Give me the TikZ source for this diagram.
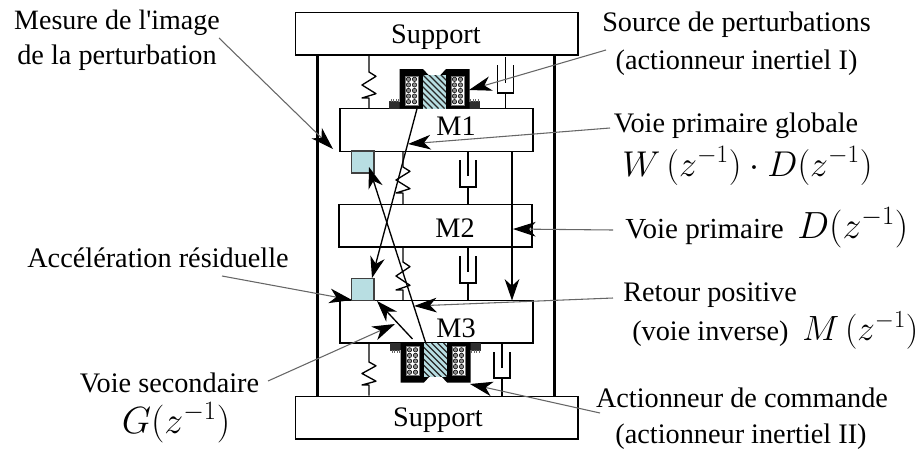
\RequirePackage{fix-cm}
\documentclass[tikz,border=0pt]{standalone}
\usepackage{fontspec}
\setmainfont{Liberation Serif}
\newfontfamily\plainserif{Liberation Serif}
\usetikzlibrary{arrows.meta}
\definecolor{sens}{HTML}{B8DEE2}
\tikzset{
  massbox/.style={draw=black,line width=1pt,fill=white,inner sep=0pt},
  sensorbox/.style={draw=black!75,line width=1pt,fill=sens,inner sep=0pt,minimum width=17pt,minimum height=16.5pt},
  rail/.style={line width=2.8pt,black},
  thin line/.style={line width=1pt,black},
  path line/.style={line width=1pt,black,-{Stealth[length=16pt,width=11pt,inset=5pt]}},
  note line/.style={line width=0.8pt,black!60,-{Stealth[length=17pt,width=11pt,inset=5pt,color=black]}},
  lab/.style={inner sep=0pt,anchor=base,font=\fontsize{21.2}{25}\selectfont},
  labw/.style={lab,anchor=base west},
  mathlab/.style={inner sep=0pt,anchor=base,font=\fontsize{26.9}{31}\selectfont},
  mathlabw/.style={mathlab,anchor=base west},
  mathbig/.style={font=\fontsize{28.4}{33}\selectfont},
  mathmid/.style={font=\fontsize{26.3}{31}\selectfont},
}
% spring: x, ytop, yzigtop, yzigbot, ybot
\newcommand\myspring[5]{%
  \draw[thin line,line join=round] (#1,#2) -- (#1,#3)
    -- ++(7,{(#4-#3)/6}) -- ++(-14,{(#4-#3)/3}) -- ++(14,{(#4-#3)/3})
    -- (#1-7,#4) -- (#1,#4) -- (#1,#5);}
% damper: x, halfwidth, rodtop, pistonend, cuptop, cupbot, rodbot
\newcommand\mydamper[7]{%
  \draw[thin line] (#1,#3) -- (#1,#4);
  \draw[line width=1.3pt] (#1-#2,#5) -- (#1-#2,#6) -- (#1+#2,#6) -- (#1+#2,#5);
  \draw[thin line] (#1,#6) -- (#1,#7);}
% actuator, drawn for the top position, base on y=0; #1 = hatch direction
\newcommand\myactuator[1]{%
  \fill[black!82] (-45.5,-6.5) rectangle (45.5,0);
  \fill[black] (-35,0) -- (-35,-39.5) -- (-11.5,-39.5) -- (-6,-33.5) -- (6,-33.5) -- (11.5,-39.5) -- (35,-39.5) -- (35,0) -- cycle;
  \fill[black!78] (-45.5,-8) rectangle (-36,-6.5);
  \fill[black!78] (36,-8) rectangle (45.5,-6.5);
  \foreach \i in {-44,-41.5,-39,-36.5} {
    \fill[black!60] (\i,-9.5) rectangle (\i+1,-7);
    \fill[black!60] (-\i,-9.5) rectangle (-\i-1,-7);}
  \begin{scope}
    \clip (-11.5,-33.5) rectangle (11.5,0);
    \fill[sens] (-11.5,-33.5) rectangle (11.5,0);
    \foreach \k in {-66,-60,...,66} \draw[line width=1pt,black!85] (\k,-34) -- (\k+#1*34,0);
  \end{scope}
  \foreach \s in {-1,1} {
    \fill[white,draw=black!55,line width=.5pt] ({\s*23-6.5},-32.5) rectangle ({\s*23+6.5},-3.5);
    \foreach \c in {-3,3} \foreach \r in {-29.2,-23.6,-18,-12.4,-6.8}
      \filldraw[fill=black!45,draw=black,line width=.4pt] ({\s*23+\c},\r) circle (2.2);
  }}
\begin{document}
\begin{tikzpicture}[x=0.75pt,y=-0.75pt]
\useasboundingbox (0,0) rectangle (924,450);
% rails
\coordinate (railLT) at (317.5,55); \coordinate (railLB) at (317.5,396);
\coordinate (railRT) at (554.5,55); \coordinate (railRB) at (554.5,396);
\draw[rail] (railLT) -- (railLB);
\draw[rail] (railRT) -- (railRB);
% supports and masses
\node[massbox,minimum width=212pt,minimum height=32pt] (supT) at (436.5,33.5) {};
\node[massbox,minimum width=212pt,minimum height=32pt] (supB) at (436.5,417.5) {};
\node[massbox,minimum width=144.75pt,minimum height=32pt] (M1) at (436.5,130) {};
\node[massbox,minimum width=144.75pt,minimum height=32pt] (M2) at (435.5,225.5) {};
\node[massbox,minimum width=144.75pt,minimum height=32pt] (M3) at (436.5,321.5) {};
\node[lab] (lS1) at (436,43) {Support};
\node[lab] (lS2) at (438,426) {Support};
\node[lab] (lM1) at (456,135) {M1};
\node[lab] (lM2) at (455,237) {M2};
\node[lab] (lM3) at (456,337) {M3};
% springs and dampers
\myspring{369}{55.5}{72}{98}{108.5}
\myspring{403}{151}{167}{193}{204}
\myspring{403}{247}{262}{290}{300}
\myspring{369}{343}{362}{385}{395.5}
\mydamper{505.5}{8}{57}{83}{65}{93}{108.5}
\mydamper{468}{8}{151}{176}{160}{187}{204}
\mydamper{468}{8}{247}{272}{256}{283}{300}
\mydamper{502}{8}{343}{368}{352}{378}{396}
% actuators
\begin{scope}[shift={(434.5,108.5)}] \myactuator{1} \end{scope}
\begin{scope}[shift={(435.5,343)},yscale=-1] \myactuator{-1} \end{scope}
% sensors
\node[sensorbox] (S1) at (362.5,162) {};
\node[sensorbox] (S2) at (362.5,289.5) {};
% signal paths
\coordinate (a) at (417,108.7); \coordinate (b) at (372,278);
\coordinate (c) at (425.7,343); \coordinate (d) at (369,167);
\coordinate (e) at (512,151); \coordinate (f) at (512,300.5);
\coordinate (g) at (412.5,339); \coordinate (h) at (377,301);
\draw[path line] (a) -- (b);
\draw[path line] (c) -- (d);
\draw[path line] (e) -- (f);
\draw[path line] (g) -- (h);
% texts
\node[lab,font=\fontsize{21}{25}\plainserif\selectfont] (t1) at (117,29) {Mesure de l'image};
\node[lab] (t1b) at (117,64) {de la perturbation};
\node[lab] (t2) at (736.5,31) {Source de perturbations};
\node[lab] (t2b) at (736.5,69) {(actionneur inertiel I)};
\node[lab] (t3) at (736,132) {Voie primaire globale};
\node[mathlab] (t4) at (747.5,176) {$W\,(z^{-1})\cdot D(z^{-1})$};
\node[labw,font=\fontsize{21.8}{25}\selectfont] (t5) at (625,238) {Voie primaire};
\node[mathlabw,mathbig] (t5b) at (797,238) {$D(z^{-1})$};
\node[lab] (t6) at (158,267) {Accélération résiduelle};
\node[labw] (t7) at (623,301) {Retour positive};
\node[labw] (t8) at (632,340) {(voie inverse)};
\node[mathlabw,mathmid] (t8b) at (802,340) {$M\,(z^{-1})$};
\node[lab] (t9) at (169.5,392) {Voie secondaire};
\node[mathlab,mathbig] (t10) at (176,433) {$G(z^{-1})$};
\node[lab] (t11) at (742,407) {Actionneur de commande};
\node[lab] (t12) at (741,443) {(actionneur inertiel II)};
% annotation leaders
\coordinate (n1a) at (219,38); \coordinate (n1b) at (333,149);
\coordinate (n2a) at (606,50); \coordinate (n2b) at (469,90);
\coordinate (n3a) at (610,128); \coordinate (n3b) at (408,144);
\coordinate (n4a) at (613,230); \coordinate (n4b) at (513,229);
\coordinate (n5a) at (222,276); \coordinate (n5b) at (352,300);
\coordinate (n6a) at (613,298); \coordinate (n6b) at (414,306);
\coordinate (n7a) at (268,381); \coordinate (n7b) at (395,324);
\coordinate (n8a) at (600,413); \coordinate (n8b) at (470,384);
\draw[note line] (n1a) -- (n1b);
\draw[note line] (n2a) -- (n2b);
\draw[note line] (n3a) -- (n3b);
\draw[note line] (n4a) -- (n4b);
\draw[note line] (n5a) -- (n5b);
\draw[note line] (n6a) -- (n6b);
\draw[note line] (n7a) -- (n7b);
\draw[note line] (n8a) -- (n8b);
\end{tikzpicture}
\end{document}
